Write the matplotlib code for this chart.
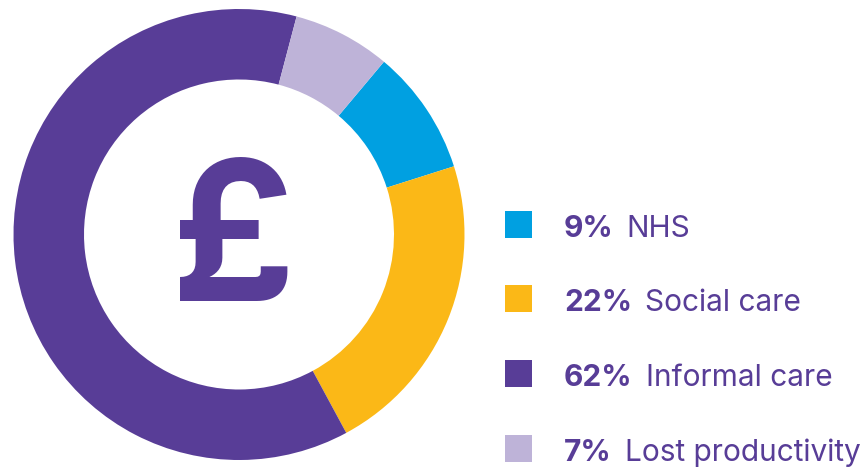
import matplotlib
matplotlib.use("Agg")
import matplotlib.pyplot as plt
from matplotlib.patches import Rectangle
from matplotlib.textpath import TextPath
from matplotlib.font_manager import FontProperties

categories = ["NHS", "Social care", "Informal care", "Lost productivity"]
values = [9, 22, 62, 7]
pct_labels = ["9%", "22%", "62%", "7%"]
colors = ["#00A0E1", "#FBB817", "#583D97", "#BEB3D8"]
text_color = "#583D97"

W, H = 868, 468
fig = plt.figure(figsize=(W / 100, H / 100), dpi=100)

# donut axes: center (239, 234.5) px from top-left, outer radius 225.5
cx, cy, R = 239, 234.5, 225.5
ax = fig.add_axes([(cx - R) / W, (H - cy - R) / H, 2 * R / W, 2 * R / H])
ax.pie(values, colors=colors, startangle=50, counterclock=False,
       wedgeprops=dict(width=1 - 155 / R, linewidth=0), radius=1)
ax.set_xlim(-1, 1)
ax.set_ylim(-1, 1)
ax.set_aspect("equal")
ax.axis("off")

fig.canvas.draw()
renderer = fig.canvas.get_renderer()

# pound sign, placed so its ink spans x 181-286, y 157-301 (px from top)
s = 100 / 72
fp = FontProperties(family="Inter", weight="bold", size=140)
ext = TextPath((0, 0), "£", prop=fp).get_extents()
fs = 140 * 144 / (ext.height * s)
fp2 = FontProperties(family="Inter", weight="bold", size=fs)
ext2 = TextPath((0, 0), "£", prop=fp2).get_extents()
x0 = 233.5 - (ext2.x0 + ext2.width / 2) * s
base_y = 301 + ext2.y0 * s
fig.text(x0 / W, 1 - base_y / H, "£", ha="left", va="baseline", fontsize=fs,
         fontweight="bold", family="Inter", color=text_color)

# legend
baselines = [237, 311, 386, 461]
fsz = 21.5
for i, (cat, pct, col) in enumerate(zip(categories, pct_labels, colors)):
    b = baselines[i]
    top = b - 26
    fig.patches.append(Rectangle((505 / W, 1 - (top + 27) / H), 27 / W, 27 / H,
                                 transform=fig.transFigure,
                                 facecolor=col, edgecolor="none"))
    t = fig.text(564 / W, 1 - b / H, pct, fontsize=fsz, fontweight="bold",
                 family="Inter", color=text_color, va="baseline", ha="left")
    x_end = t.get_window_extent(renderer).x1
    fig.text((x_end + 13) / W, 1 - b / H, cat, fontsize=fsz, family="Inter",
             color=text_color, va="baseline", ha="left")

fig.savefig("out.png", dpi=100)
